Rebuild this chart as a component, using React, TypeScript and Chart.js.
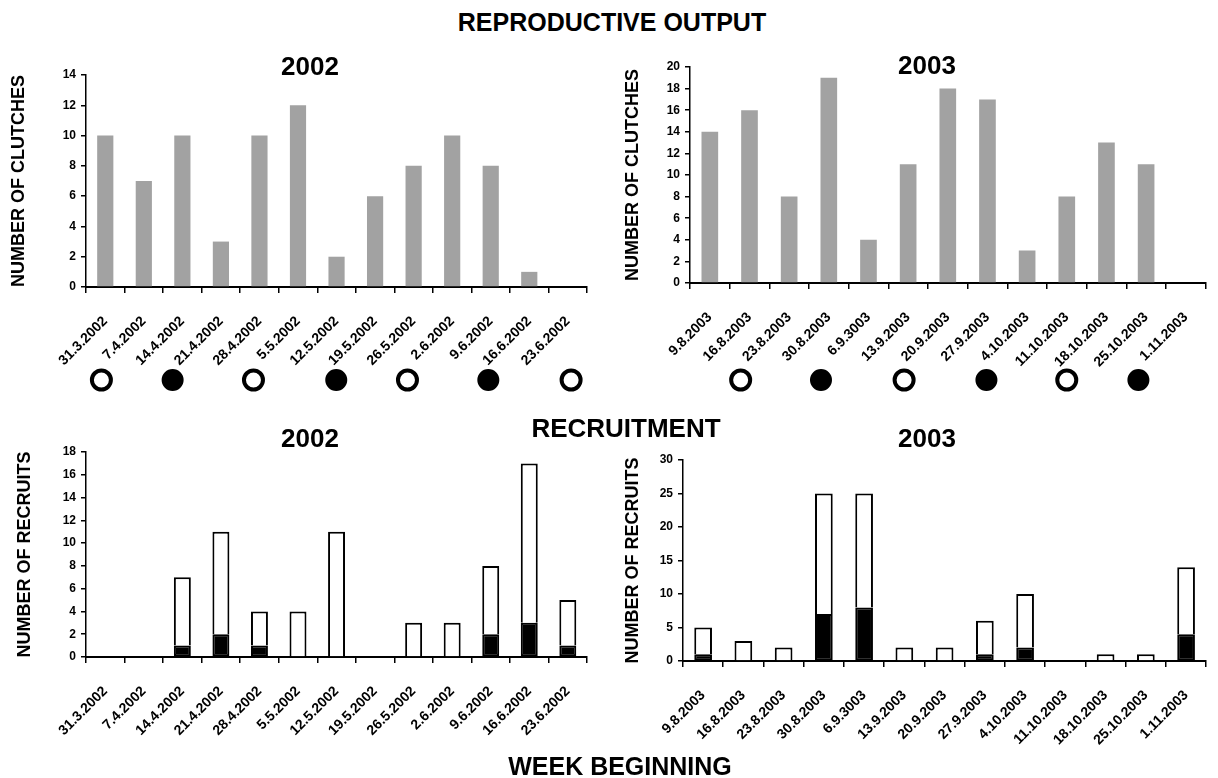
import React, { useEffect, useRef } from "react";
import { Chart, registerables } from "chart.js";

Chart.register(...registerables);

// ---------- DATA ----------
const weeks2002 = [
  "31.3.2002", "7.4.2002", "14.4.2002", "21.4.2002", "28.4.2002", "5.5.2002", "12.5.2002",
  "19.5.2002", "26.5.2002", "2.6.2002", "9.6.2002", "16.6.2002", "23.6.2002",
];
const weeks2003 = [
  "9.8.2003", "16.8.2003", "23.8.2003", "30.8.2003", "6.9.3003", "13.9.2003", "20.9.2003",
  "27.9.2003", "4.10.2003", "11.10.2003", "18.10.2003", "25.10.2003", "1.11.2003",
];

const clutches2002 = [10, 7, 10, 3, 10, 12, 2, 6, 8, 10, 8, 1, 0];
const clutches2003 = [14, 16, 8, 19, 4, 11, 18, 17, 3, 8, 13, 11, 0];

const recruitsTotal2002 = [0, 0, 7, 11, 4, 4, 11, 0, 3, 3, 8, 17, 5];
const recruitsBlack2002 = [0, 0, 1, 2, 1, 0, 0, 0, 0, 0, 2, 3, 1];
const recruitsTotal2003 = [5, 3, 2, 25, 25, 2, 2, 6, 10, 0, 1, 1, 14];
const recruitsBlack2003 = [1, 0, 0, 7, 8, 0, 0, 1, 2, 0, 0, 0, 4];

// moon phases, positions in week-index units
const fullMoon2002 = [-0.1, 3.85, 7.85, 12.1];
const newMoon2002 = [1.75, 6.0, 9.95];
const fullMoon2003 = [0.78, 4.91, 9.02];
const newMoon2003 = [2.81, 6.99, 10.83];

// y-axis ranges [min, max, step]
const clutchAxis2002 = [0, 14, 2];
const clutchAxis2003 = [0, 20, 2];
const recruitAxis2002 = [0, 18, 2];
const recruitAxis2003 = [0, 30, 5];

const FONT = "'Liberation Sans', Arial, Helvetica, sans-serif";

type Geo = {
  yWidth: number;
  xHeight: number;
  padTop: number;
  padRight: number;
  titlePad: number;
};

function nz(v: number) {
  return v === 0 ? null : v;
}

function barConfig(labels: string[], datasets: any[], axis: number[], yTitle: string, g: Geo): any {
  return {
    type: "bar",
    data: { labels, datasets },
    options: {
      responsive: false,
      animation: false,
      devicePixelRatio: 1,
      events: [],
      layout: { padding: { top: g.padTop, right: g.padRight, left: 0, bottom: 0 } },
      plugins: {
        legend: { display: false },
        tooltip: { enabled: false },
        title: { display: false },
      },
      scales: {
        x: {
          stacked: true,
          offset: true,
          grid: {
            display: true,
            drawOnChartArea: false,
            drawTicks: true,
            tickLength: 6,
            color: "#000",
            lineWidth: 1.5,
            offset: true,
          },
          border: { display: true, color: "#000", width: 2 },
          ticks: {
            color: "#000",
            font: { family: FONT, size: 14, weight: "bold" },
            minRotation: 45,
            maxRotation: 45,
            padding: 20,
            autoSkip: false,
          },
          afterFit: (s: any) => {
            s.height = g.xHeight;
          },
        },
        y: {
          stacked: true,
          min: axis[0],
          max: axis[1],
          grid: {
            drawOnChartArea: false,
            drawTicks: true,
            tickLength: 5,
            color: "#000",
            lineWidth: 1.5,
          },
          border: { display: true, color: "#000", width: 1.5 },
          ticks: {
            stepSize: axis[2],
            color: "#000",
            font: { family: FONT, size: 12, weight: "bold" },
            padding: 5,
          },
          title: {
            display: true,
            text: yTitle,
            color: "#000",
            font: { family: FONT, size: 18, weight: "bold" },
            padding: { top: g.titlePad, bottom: 0 },
          },
          afterFit: (s: any) => {
            s.width = g.yWidth;
          },
        },
      },
    },
  };
}

function clutchConfig(labels: string[], values: number[], axis: number[], g: Geo) {
  return barConfig(
    labels,
    [
      {
        data: values.map(nz),
        backgroundColor: "#a2a2a2",
        borderWidth: 0,
        barPercentage: 0.42,
        categoryPercentage: 1,
      },
    ],
    axis,
    "NUMBER OF CLUTCHES",
    g
  );
}

function recruitConfig(labels: string[], total: number[], black: number[], axis: number[], g: Geo) {
  return barConfig(
    labels,
    [
      {
        data: black.map(nz),
        backgroundColor: "#000",
        borderColor: "#000",
        borderWidth: 2,
        borderSkipped: false,
        inflateAmount: 0,
        barPercentage: 0.44,
        categoryPercentage: 1,
      },
      {
        data: total.map((t, i) => nz(t - black[i])),
        backgroundColor: "#fff",
        borderColor: "#000",
        borderWidth: 2,
        borderSkipped: "bottom",
        inflateAmount: 0,
        barPercentage: 0.44,
        categoryPercentage: 1,
      },
    ],
    axis,
    "NUMBER OF RECRUITS",
    g
  );
}

function moonConfig(full: number[], nw: number[], padLeft: number, padRight: number, n: number): any {
  return {
    type: "scatter",
    data: {
      datasets: [
        {
          data: full.map((x) => ({ x, y: 0.5 })),
          pointRadius: 9.5,
          pointBorderWidth: 4,
          pointBackgroundColor: "#fff",
          pointBorderColor: "#000",
          clip: false,
        },
        {
          data: nw.map((x) => ({ x, y: 0.5 })),
          pointRadius: 9,
          pointBorderWidth: 4,
          pointBackgroundColor: "#000",
          pointBorderColor: "#000",
          clip: false,
        },
      ],
    },
    options: {
      responsive: false,
      animation: false,
      devicePixelRatio: 1,
      events: [],
      layout: { padding: { left: padLeft, right: padRight, top: 0, bottom: 0 } },
      plugins: { legend: { display: false }, tooltip: { enabled: false } },
      scales: {
        x: { type: "linear", display: false, min: -0.5, max: n - 0.5 },
        y: { type: "linear", display: false, min: 0, max: 1 },
      },
    },
  };
}

function ChartBox({ config, left, top, width, height }: any) {
  const ref = useRef<HTMLCanvasElement | null>(null);
  useEffect(() => {
    if (!ref.current) return;
    const chart = new Chart(ref.current, config);
    return () => chart.destroy();
  }, []);
  return (
    <canvas
      ref={ref}
      width={width}
      height={height}
      style={{ position: "absolute", left, top, width, height }}
    />
  );
}

function Label({ text, x, y, size }: { text: string; x: number; y: number; size: number }) {
  return (
    <div
      style={{
        position: "absolute",
        left: x,
        top: y,
        transform: "translate(-50%, -50%)",
        fontFamily: FONT,
        fontWeight: "bold",
        fontSize: size,
        lineHeight: 1,
        whiteSpace: "nowrap",
        color: "#000",
      }}
    >
      {text}
    </div>
  );
}

export default function App() {
  return (
    <div
      style={{
        position: "fixed",
        left: 0,
        top: 0,
        width: 1218,
        height: 778,
        background: "#fff",
        overflow: "hidden",
      }}
    >
      <ChartBox
        left={0}
        top={55}
        width={600}
        height={320}
        config={clutchConfig(weeks2002, clutches2002, clutchAxis2002, {
          yWidth: 86,
          xHeight: 88,
          padTop: 20,
          padRight: 8,
          titlePad: 8,
        })}
      />
      <ChartBox
        left={600}
        top={47}
        width={618}
        height={320}
        config={clutchConfig(weeks2003, clutches2003, clutchAxis2003, {
          yWidth: 90,
          xHeight: 84,
          padTop: 20,
          padRight: 9,
          titlePad: 22,
        })}
      />
      <ChartBox left={0} top={365} width={600} height={30} config={moonConfig(fullMoon2002, newMoon2002, 86, 8, weeks2002.length)} />
      <ChartBox left={600} top={365} width={618} height={30} config={moonConfig(fullMoon2003, newMoon2003, 90, 9, weeks2003.length)} />
      <ChartBox
        left={0}
        top={432}
        width={600}
        height={340}
        config={recruitConfig(weeks2002, recruitsTotal2002, recruitsBlack2002, recruitAxis2002, {
          yWidth: 86,
          xHeight: 115,
          padTop: 20,
          padRight: 8,
          titlePad: 14,
        })}
      />
      <ChartBox
        left={600}
        top={440}
        width={618}
        height={338}
        config={recruitConfig(weeks2003, recruitsTotal2003, recruitsBlack2003, recruitAxis2003, {
          yWidth: 83,
          xHeight: 117,
          padTop: 20,
          padRight: 1,
          titlePad: 22,
        })}
      />
      <Label text="REPRODUCTIVE OUTPUT" x={612} y={22} size={25} />
      <Label text="2002" x={310} y={66} size={26} />
      <Label text="2003" x={927} y={65} size={26} />
      <Label text="RECRUITMENT" x={626} y={428} size={26} />
      <Label text="2002" x={310} y={438} size={26} />
      <Label text="2003" x={927} y={438} size={26} />
      <Label text="WEEK BEGINNING" x={620} y={766} size={25} />
    </div>
  );
}
